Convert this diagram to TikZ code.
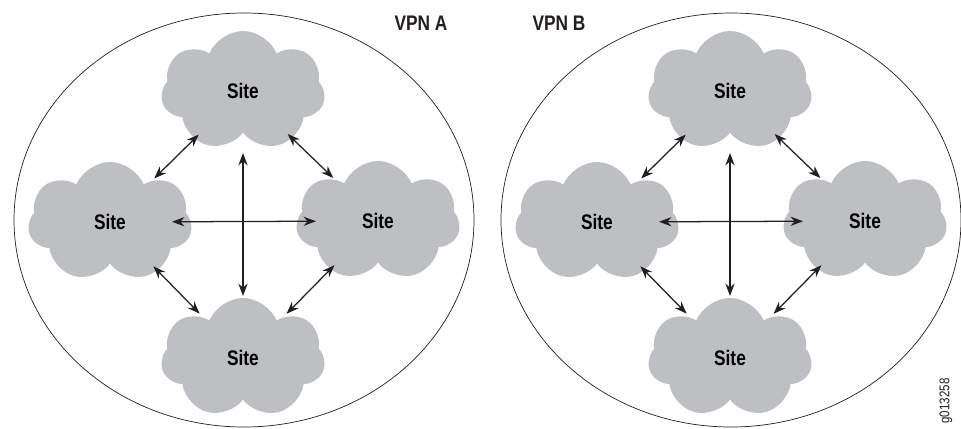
\documentclass[tikz,border=0pt]{standalone}
\usepackage{fontspec}
\setmainfont{Liberation Sans}[FakeStretch=0.82]
\usepackage{tikz}
\usetikzlibrary{shapes.symbols, arrows.meta}
\definecolor{cloudgray}{RGB}{190, 191, 195}
\definecolor{linkblack}{RGB}{35, 31, 32}

\begin{document}
\begin{tikzpicture}[x=0.025cm, y=-0.025cm,
	site/.style={cloud, cloud puffs=7, cloud puff arc=135, aspect=1.37, fill=cloudgray, minimum width=4.1cm, minimum height=3cm, inner sep=0pt, font=\fontsize{15}{17}\selectfont\bfseries},
	link/.style={linkblack, line width=0.9pt, {Stealth[length=3.1mm, width=2.3mm]}-{Stealth[length=3.1mm, width=2.3mm]}, shorten <=1.55cm, shorten >=1.55cm},
	vpn/.style={font=\fontsize{15}{17}\selectfont\bfseries, text=linkblack}]
	\useasboundingbox (0,0) rectangle (961,428);
	\foreach \v/\dx in {a/0, b/487} {
		\draw[linkblack, line width=0.5pt] (244+\dx,220) ellipse [x radius=230, y radius=207];
		\node[site] (t\v) at (243+\dx,91) {Site};
		\node[site] (l\v) at (110+\dx,222) {Site};
		\node[site] (r\v) at (378+\dx,221) {Site};
		\node[site] (b\v) at (243+\dx,358) {Site};
		\draw[link] (t\v.center) -- (l\v.center);
		\draw[link] (t\v.center) -- (r\v.center);
		\draw[link] (l\v.center) -- (b\v.center);
		\draw[link] (r\v.center) -- (b\v.center);
		\draw[link] (t\v.center) -- (b\v.center);
		\draw[link] (l\v.center) -- (r\v.center);
	}
	\node[vpn] (vpna) at (421,23) {VPN A};
	\node[vpn] (vpnb) at (559,23) {VPN B};
	\node[rotate=90, font=\fontsize{10}{12}\selectfont, text=linkblack] (fig) at (946,401) {g013258};
\end{tikzpicture}
\end{document}
